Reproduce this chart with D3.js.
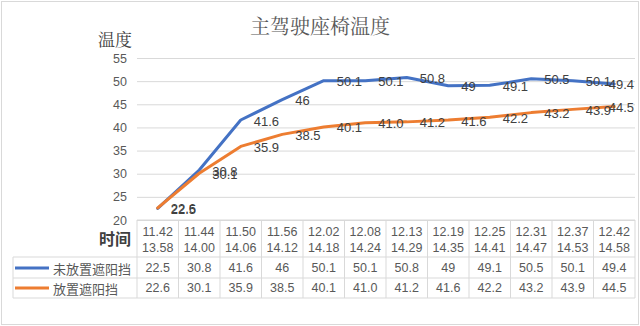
<!DOCTYPE html>
<html>
<head>
<meta charset="utf-8">
<script src="https://cdn.jsdelivr.net/npm/d3@7/dist/d3.min.js"></script>
<style>
  html, body { margin: 0; padding: 0; background: #fff; }
  svg { display: block; }
</style>
</head>
<body>
<svg id="chart" width="640" height="326"></svg>
<script>
// Sampling times (two readings per column: first run / second run)
const timesFirst  = ["11.42","11.44","11.50","11.56","12.02","12.08","12.13","12.19","12.25","12.31","12.37","12.42"];
const timesSecond = ["13.58","14.00","14.06","14.12","14.18","14.24","14.29","14.35","14.41","14.47","14.53","14.58"];

// Seat temperature readings
const noShade   = [22.5, 30.8, 41.6, 46, 50.1, 50.1, 50.8, 49, 49.1, 50.5, 50.1, 49.4];
const withShade = [22.6, 30.1, 35.9, 38.5, 40.1, 41.0, 41.2, 41.6, 42.2, 43.2, 43.9, 44.5];

const seriesNames = ["未放置遮阳挡", "放置遮阳挡"];
const yTicks = [20, 25, 30, 35, 40, 45, 50, 55];

const series = [
  { name: seriesNames[0], values: noShade,   color: "#4472C4", fmt: v => String(v) },
  { name: seriesNames[1], values: withShade, color: "#ED7D31", fmt: v => v.toFixed(1) }
];

const svg = d3.select("#chart");
const W = 640, H = 326;
const plot = { left: 137, right: 635, top: 58, bottom: 220 };

const cjkSerif = "'Noto Serif CJK SC', 'Noto Sans CJK SC', serif";
const cjkSans = "'Noto Sans CJK SC', sans-serif";
const numFont = "'Liberation Sans', 'Noto Sans', sans-serif";

// chart frame
svg.append("rect")
  .attr("x", 1.5).attr("y", 1.5).attr("width", W - 3).attr("height", H - 3)
  .attr("fill", "#fff").attr("stroke", "#d9d9d9").attr("stroke-width", 1);

// title
svg.append("text")
  .attr("x", 320).attr("y", 34)
  .attr("text-anchor", "middle")
  .attr("font-family", cjkSerif).attr("font-size", 20)
  .attr("fill", "#595959")
  .text("主驾驶座椅温度");

const keys = d3.range(timesFirst.length);
const x = d3.scaleBand().domain(keys).range([plot.left, plot.right]).padding(0);
const y = d3.scaleLinear().domain([20, 55]).range([plot.bottom, plot.top]);
const cx = i => x(i) + x.bandwidth() / 2;

// gridlines + y tick labels
const yAxis = svg.append("g")
  .attr("transform", `translate(${plot.left},0)`)
  .call(d3.axisLeft(y).tickValues(yTicks).tickSize(-(plot.right - plot.left)).tickPadding(10));
yAxis.select(".domain").remove();
yAxis.selectAll(".tick line").attr("stroke", "#d9d9d9").attr("stroke-width", 1);
yAxis.selectAll(".tick text")
  .attr("font-family", numFont).attr("font-size", 12.5).attr("fill", "#595959");

// y axis title
svg.append("text")
  .attr("x", 98).attr("y", 46)
  .attr("font-family", cjkSerif).attr("font-size", 17)
  .attr("fill", "#404040")
  .text("温度");

// series lines
const line = d3.line().x((d, i) => cx(i)).y(d => y(d));
series.forEach(s => {
  svg.append("path")
    .datum(s.values)
    .attr("d", line)
    .attr("fill", "none")
    .attr("stroke", s.color)
    .attr("stroke-width", 3)
    .attr("stroke-linejoin", "round")
    .attr("stroke-linecap", "round");
});

// data labels to the right of each point, kept inside the plot area
series.forEach(s => {
  svg.append("g").selectAll("text")
    .data(s.values)
    .join("text")
    .attr("font-family", numFont).attr("font-size", 13)
    .attr("fill", "#404040")
    .attr("dominant-baseline", "central")
    .text(d => s.fmt(d))
    .each(function (d, i) {
      const w = this.getComputedTextLength();
      let lx = cx(i) + 13;
      if (lx + w > plot.right - 1) lx = plot.right - 1 - w;
      d3.select(this).attr("x", lx).attr("y", y(d) + 1);
    });
});

// data table under the plot
const gridColor = "#d9d9d9";
const tbl = svg.append("g");
const rowTop = 220, headBottom = 257, row1Bottom = 278, row2Bottom = 298;
const legendLeft = 13;

// horizontal rules
tbl.append("line").attr("x1", plot.left).attr("x2", plot.right).attr("y1", rowTop).attr("y2", rowTop);
[headBottom, row1Bottom, row2Bottom].forEach(yy => {
  tbl.append("line").attr("x1", legendLeft).attr("x2", plot.right).attr("y1", yy).attr("y2", yy);
});
// vertical rules
keys.forEach(i => {
  tbl.append("line").attr("x1", x(i)).attr("x2", x(i)).attr("y1", rowTop).attr("y2", row2Bottom);
});
tbl.append("line").attr("x1", plot.right).attr("x2", plot.right).attr("y1", rowTop).attr("y2", row2Bottom);
tbl.append("line").attr("x1", legendLeft).attr("x2", legendLeft).attr("y1", headBottom).attr("y2", row2Bottom);
tbl.selectAll("line").attr("stroke", gridColor).attr("stroke-width", 1);

// category header (two times per column)
tbl.append("g").selectAll("text")
  .data(keys)
  .join("text")
  .attr("x", i => cx(i)).attr("y", 235.5)
  .attr("text-anchor", "middle")
  .attr("font-family", numFont).attr("font-size", 12.5).attr("fill", "#595959")
  .text(i => timesFirst[i]);
tbl.append("g").selectAll("text")
  .data(keys)
  .join("text")
  .attr("x", i => cx(i)).attr("y", 252)
  .attr("text-anchor", "middle")
  .attr("font-family", numFont).attr("font-size", 12.5).attr("fill", "#595959")
  .text(i => timesSecond[i]);

// x axis title
svg.append("text")
  .attr("x", 99).attr("y", 245)
  .attr("font-family", cjkSans).attr("font-size", 16).attr("font-weight", "bold")
  .attr("fill", "#404040")
  .text("时间");

// series rows with legend keys
const rowCenters = [268, 288];
series.forEach((s, r) => {
  const yc = rowCenters[r];
  tbl.append("line")
    .attr("x1", 15).attr("x2", 49).attr("y1", yc).attr("y2", yc)
    .attr("stroke", s.color).attr("stroke-width", 3);
  tbl.append("text")
    .attr("x", 53).attr("y", yc)
    .attr("dominant-baseline", "central")
    .attr("font-family", cjkSans).attr("font-size", 13).attr("fill", "#595959")
    .text(s.name);
  tbl.append("g").selectAll("text")
    .data(s.values)
    .join("text")
    .attr("x", (d, i) => cx(i)).attr("y", yc)
    .attr("text-anchor", "middle")
    .attr("dominant-baseline", "central")
    .attr("font-family", numFont).attr("font-size", 12.5).attr("fill", "#595959")
    .text(d => s.fmt(d));
});
</script>
</body>
</html>
